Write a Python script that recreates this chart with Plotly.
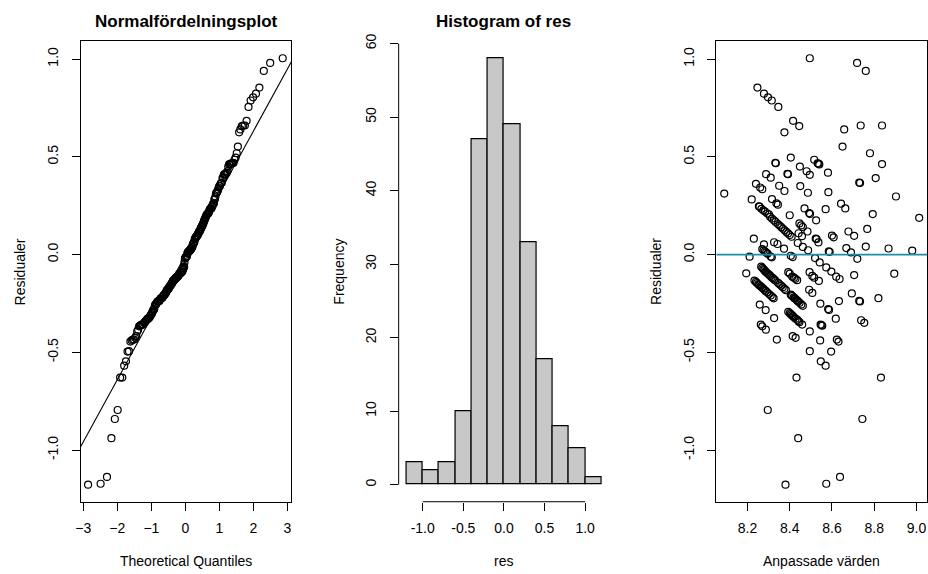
import numpy as np
import plotly.graph_objects as go
from statistics import NormalDist

# ---------------- data ----------------
fitted = [
    8.495,
    8.719, 8.760, 8.247, 8.278, 8.297,
    8.315, 8.346, 8.416, 8.445, 8.375, 8.736, 8.837, 8.658,
    8.650, 8.780, 8.405, 8.837, 8.516, 8.532, 8.536, 8.540, 8.332, 8.334, 8.389, 8.392,
    8.448, 8.480, 8.495, 8.581, 8.288,
    8.310, 8.807, 8.729, 8.733, 8.240, 8.260, 8.270, 8.350, 8.375, 8.450, 8.486, 8.583,
    8.090, 8.903, 8.220, 8.316, 8.337, 8.344, 8.254, 8.257, 8.283, 8.294, 8.400, 8.470,
    8.492, 8.496, 8.570, 8.643, 8.663, 8.793, 8.266, 8.275, 8.302,
    8.307, 8.316, 8.325, 8.333, 8.344, 8.352, 8.360, 8.368, 8.376, 8.384, 8.392, 8.400, 8.409,
    9.013, 8.525, 8.446, 8.454, 8.462, 8.442, 8.458, 8.484, 8.678, 8.705, 8.767,
    8.523, 8.527, 8.536, 8.600, 8.608, 8.230, 8.278, 8.326, 8.342, 8.373, 8.438, 8.462, 8.487,
    8.585, 8.589, 8.668, 8.690, 8.760, 8.868, 8.980,
    8.270, 8.276, 8.282, 8.288, 8.295,
    8.310, 8.315, 8.210, 8.405, 8.414, 8.520, 8.542, 8.573, 8.597, 8.620, 8.636, 8.720,
    8.705, 8.895, 8.194,
    8.265, 8.270, 8.275, 8.280, 8.285, 8.290, 8.296, 8.302, 8.308, 8.314, 8.320, 8.326, 8.332,
    8.393, 8.412, 8.427, 8.435, 8.400, 8.420,
    8.494, 8.507, 8.516, 8.538,
    8.233, 8.240, 8.245, 8.251, 8.256, 8.262, 8.268, 8.274, 8.280, 8.286, 8.293,
    8.345, 8.352, 8.360, 8.367, 8.375, 8.382,
    8.492, 8.507, 8.694,
    8.405, 8.412, 8.419, 8.426, 8.433, 8.440, 8.447, 8.455, 8.462,
    8.302, 8.310, 8.318, 8.324, 8.393, 8.400, 8.410, 8.420, 8.428, 8.436, 8.446, 8.459,
    8.545, 8.582, 8.586, 8.633, 8.729, 8.733, 8.820, 8.258, 8.286, 8.326,
    8.263, 8.270, 8.287, 8.495, 8.546, 8.550, 8.554, 8.618, 8.738, 8.753,
    8.409, 8.423, 8.437, 8.405, 8.415, 8.441,
    8.339, 8.414, 8.428, 8.544, 8.623, 8.631, 8.495, 8.596, 8.547, 8.570,
    8.432, 8.832, 8.296,
    8.744, 8.440,
    8.380, 8.573, 8.638,
]

residuals = [
    1.004,
    0.980, 0.939, 0.854, 0.823, 0.804,
    0.788, 0.755, 0.684, 0.657, 0.625, 0.660, 0.660, 0.640,
    0.552, 0.518, 0.496, 0.463, 0.485, 0.467, 0.465, 0.461, 0.469, 0.467, 0.413, 0.411,
    0.450, 0.426, 0.408, 0.419, 0.411,
    0.393, 0.391, 0.368, 0.366, 0.362, 0.343, 0.334, 0.352, 0.325, 0.350, 0.316, 0.319,
    0.312, 0.297, 0.282, 0.284, 0.262, 0.255, 0.247, 0.245, 0.220, 0.210, 0.201, 0.236,
    0.212, 0.208, 0.232, 0.260, 0.236, 0.207, 0.234, 0.226, 0.205,
    0.193, 0.184, 0.175, 0.167, 0.156, 0.148, 0.140, 0.132, 0.124, 0.116, 0.108, 0.100, 0.091,
    0.188, 0.175, 0.159, 0.149, 0.141, 0.109, 0.094, 0.118, 0.118, 0.096, 0.131,
    0.082, 0.079, 0.062, 0.097, 0.088, 0.081, 0.052, 0.063, 0.054, 0.030, 0.059, 0.039, 0.022,
    0.016, 0.013, 0.033, 0.011, 0.041, 0.031, 0.020,
    0.028, 0.022, 0.017, 0.011, 0.005,
    -0.010, -0.014, -0.011, -0.006, -0.013, -0.018, -0.040, -0.066, -0.087, -0.113, -0.125, -0.022,
    -0.105, -0.098, -0.096,
    -0.062, -0.068, -0.074, -0.080, -0.086, -0.092, -0.097, -0.103, -0.109, -0.116, -0.121, -0.127, -0.133,
    -0.090, -0.113, -0.124, -0.131, -0.098, -0.118,
    -0.090, -0.109, -0.118, -0.135,
    -0.133, -0.140, -0.146, -0.152, -0.157, -0.162, -0.168, -0.174, -0.180, -0.186, -0.193,
    -0.145, -0.152, -0.160, -0.167, -0.175, -0.182,
    -0.180, -0.196, -0.199,
    -0.205, -0.212, -0.219, -0.226, -0.233, -0.240, -0.247, -0.255, -0.262,
    -0.202, -0.210, -0.218, -0.224, -0.293, -0.300, -0.310, -0.321, -0.328, -0.334, -0.346, -0.358,
    -0.251, -0.279, -0.283, -0.238, -0.237, -0.240, -0.223, -0.256, -0.284, -0.325,
    -0.358, -0.367, -0.384, -0.393, -0.358, -0.361, -0.364, -0.328, -0.336, -0.349,
    -0.209, -0.223, -0.237, -0.305, -0.315, -0.341,
    -0.435, -0.417, -0.426, -0.439, -0.435, -0.445, -0.494, -0.496, -0.546, -0.568,
    -0.629, -0.629, -0.795,
    -0.841, -0.939,
    -1.177, -1.172, -1.137,
]

hist_breaks = [-1.2, -1.0, -0.8, -0.6, -0.4, -0.2, 0.0, 0.2, 0.4, 0.6, 0.8, 1.0, 1.2]
hist_counts = [3, 2, 3, 10, 47, 58, 49, 33, 17, 8, 5, 1]

qq_xticks = [-3, -2, -1, 0, 1, 2, 3]
res_ticks = [-1.0, -0.5, 0.0, 0.5, 1.0]
res_ticklabels = ["-1.0", "-0.5", "0.0", "0.5", "1.0"]
hist_xticks = [-1.0, -0.5, 0.0, 0.5, 1.0]
hist_xticklabels = ["-1.0", "-0.5", "0.0", "0.5", "1.0"]
hist_yticks = [0, 10, 20, 30, 40, 50, 60]
fit_ticks = [8.2, 8.4, 8.6, 8.8, 9.0]
fit_ticklabels = ["8.2", "8.4", "8.6", "8.8", "9.0"]

# ---------------- derived (as qqnorm / qqline / hist do) ----------------
nd = NormalDist()
res_sorted = np.sort(np.array(residuals))
n = len(res_sorted)
theo = np.array([nd.inv_cdf((i - 0.5) / n) for i in range(1, n + 1)])
q1, q3 = np.quantile(np.array(residuals), [0.25, 0.75])
z1, z3 = nd.inv_cdf(0.25), nd.inv_cdf(0.75)
slope = (q3 - q1) / (z3 - z1)
intercept = q1 - slope * z1

edges = np.array(hist_breaks)
mids = (edges[:-1] + edges[1:]) / 2
widths = np.diff(edges)

# ---------------- layout geometry (pixels) ----------------
W, H = 928, 574
TOP, BOTTOM = 33.7, 500.7
P1 = (76.0, 288.0)
P2 = (395.8, 607.5)
P3 = (715.3, 927.0)

def dom_x(p):
    return [p[0] / W, p[1] / W]

ydom = [1 - BOTTOM / H, 1 - TOP / H]

FONT = "Liberation Sans, Arial, Helvetica, sans-serif"
tickfont = dict(family=FONT, size=14, color="black")

marker = dict(symbol="circle-open", size=7, color="black", line=dict(width=1.2, color="black"))

fig = go.Figure()
fig.add_trace(go.Scatter(x=theo, y=res_sorted, mode="markers", marker=marker,
                         xaxis="x", yaxis="y", showlegend=False, hoverinfo="skip"))
line_x = np.array([-4.0, 4.0])
fig.add_trace(go.Scatter(x=line_x, y=intercept + slope * line_x, mode="lines",
                         line=dict(color="black", width=1.1),
                         xaxis="x", yaxis="y", showlegend=False, hoverinfo="skip"))
fig.add_trace(go.Bar(x=mids, y=hist_counts, width=widths,
                     marker=dict(color="#C8C8C8", line=dict(color="black", width=1.2)),
                     xaxis="x2", yaxis="y2", showlegend=False, hoverinfo="skip"))
fig.add_trace(go.Scatter(x=fitted, y=residuals, mode="markers", marker=marker,
                         xaxis="x3", yaxis="y3", showlegend=False, hoverinfo="skip"))

common = dict(showgrid=False, zeroline=False, ticks="outside", ticklen=8, tickwidth=1,
              tickcolor="black", tickfont=tickfont, linecolor="black", linewidth=1)
xcommon = dict(ticklabelstandoff=5, **common)
ycommon = dict(ticklabelstandoff=8, tickangle=-90, **common)

fig.update_layout(
    width=W, height=H,
    margin=dict(l=0, r=0, t=0, b=0),
    paper_bgcolor="white", plot_bgcolor="white",
    bargap=0,
    xaxis=dict(domain=dom_x(P1), range=[-3.08, 3.117], tickvals=qq_xticks,
               showline=True, mirror=True, anchor="y", **xcommon),
    yaxis=dict(domain=ydom, range=[-1.264, 1.091], tickvals=res_ticks, ticktext=res_ticklabels,
               showline=True, mirror=True, anchor="x", **ycommon),
    xaxis2=dict(domain=dom_x(P2), range=[-1.296, 1.296], tickvals=hist_xticks,
                ticktext=hist_xticklabels, showline=False, anchor="y2", **xcommon),
    yaxis2=dict(domain=ydom, range=[-2.32, 60.32], tickvals=hist_yticks,
                showline=False, anchor="x2", **ycommon),
    xaxis3=dict(domain=dom_x(P3), range=[8.053, 9.05], tickvals=fit_ticks,
                ticktext=fit_ticklabels, showline=True, mirror=True, anchor="y3", **xcommon),
    yaxis3=dict(domain=ydom, range=[-1.264, 1.091], tickvals=res_ticks, ticktext=res_ticklabels,
                showline=True, mirror=True, anchor="x3", **ycommon),
)

# histogram axis lines (only between first and last tick, as R draws them)
fig.add_shape(type="line", xref="x2", yref="y2 domain", x0=hist_xticks[0], x1=hist_xticks[-1],
              y0=0, y1=0, line=dict(color="black", width=1))
fig.add_shape(type="line", xref="x2 domain", yref="y2", x0=0, x1=0,
              y0=hist_yticks[0], y1=hist_yticks[-1], line=dict(color="black", width=1))
# horizontal reference line at zero
fig.add_shape(type="line", xref="x3 domain", yref="y3", x0=0, x1=1, y0=0, y1=0,
              line=dict(color="#1F8DAA", width=1.8))

def ann(text, x, y, size=14, bold=False, angle=0):
    fig.add_annotation(text=("<b>%s</b>" % text) if bold else text,
                       x=x / W, y=1 - y / H, xref="paper", yref="paper",
                       showarrow=False, textangle=angle,
                       font=dict(family=FONT, size=size, color="black"),
                       xanchor="center", yanchor="middle")

mid_y = (TOP + BOTTOM) / 2
ann("Normalfördelningsplot", (P1[0] + P1[1]) / 2, 13.5, size=17, bold=True)
ann("Histogram of res", (P2[0] + P2[1]) / 2, 13.5, size=17, bold=True)
ann("Theoretical Quantiles", (P1[0] + P1[1]) / 2, 561)
ann("res", (P2[0] + P2[1]) / 2, 561)
ann("Anpassade värden", (P3[0] + P3[1]) / 2, 561)
ann("Residualer", 16, mid_y, angle=-90)
ann("Frequency", 336, mid_y, angle=-90)
ann("Residualer", 655, mid_y, angle=-90)

fig.write_html("out.html", config={"displayModeBar": False},
               post_script="document.body.style.margin='0';")
